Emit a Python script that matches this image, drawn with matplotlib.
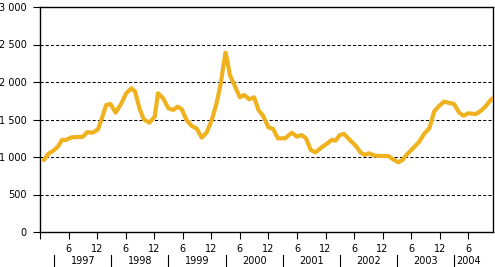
"""
Monthly index 1997-2004 — recreated line chart with split month/year axis.
"""

import matplotlib
matplotlib.use("Agg")
import matplotlib.pyplot as plt
from matplotlib.ticker import FuncFormatter

# months counted from Dec 1996 (= 0)
months = [0.84, 1.7, 2.7, 3.8, 4.6, 5.5, 6.6, 9.0, 9.9, 11.1, 12.2, 13.0,
          13.9, 14.8, 15.9, 17.1, 18.1, 19.2, 20.0, 20.9, 21.8, 23.0, 24.1,
          24.8, 25.8, 27.0, 28.0, 28.9, 29.8, 30.8, 31.9, 32.9, 34.0, 35.0,
          36.1, 37.1, 38.0, 38.5, 39.0, 39.4, 39.9, 41.0, 42.0, 42.9, 44.0,
          45.0, 45.9, 46.9, 48.0, 49.0, 50.0, 51.5, 52.9, 54.0, 55.0, 55.9,
          56.9, 57.9, 59.2, 60.4, 61.3, 62.1, 63.0, 63.9, 65.1, 66.4, 67.4,
          68.3, 69.1, 70.4, 72.0, 73.2, 74.2, 75.3, 76.2, 77.0, 78.4, 79.7,
          80.7, 81.8, 82.3, 82.8, 83.7, 84.9, 85.8, 87.0, 88.1, 89.0, 90.0,
          91.6, 92.6, 93.7, 94.7, 95.4]
values = [960, 1040, 1080, 1140, 1227, 1227, 1262, 1270, 1330, 1325, 1370, 1515,
          1693, 1707, 1591, 1716, 1849, 1916, 1871, 1649, 1502, 1458, 1538,
          1849, 1790, 1649, 1627, 1671, 1636, 1493, 1413, 1382, 1258, 1324,
          1493, 1716, 1982, 2204, 2390, 2271, 2093, 1938, 1796, 1827, 1769,
          1796, 1627, 1547, 1396, 1373, 1249, 1249, 1324, 1271, 1293, 1249,
          1093, 1062, 1129, 1182, 1227, 1218, 1293, 1307, 1227, 1147, 1058,
          1027, 1049, 1018, 1013, 1013, 969, 929, 960, 1027, 1116, 1204,
          1307, 1382, 1484, 1604, 1671, 1738, 1724, 1707, 1591, 1551, 1582,
          1573, 1613, 1680, 1760, 1796]

years = ["1997", "1998", "1999", "2000", "2001", "2002", "2003", "2004"]
month_ticks = list(range(0, 91, 6))
y_ticks = [0, 500, 1000, 1500, 2000, 2500, 3000]

LINE = "#EFB21E"
FS = 7


def main():
    fig = plt.figure(figsize=(4.95, 2.67), dpi=100)
    ax = fig.add_axes([40 / 495, 35 / 267, 453 / 495, 225 / 267])

    ax.plot(months, values, color=LINE, lw=3.0, solid_capstyle="round",
            solid_joinstyle="round", zorder=3)

    ax.set_xlim(0, 95.2)
    ax.set_ylim(0, 3000)

    ax.set_yticks(y_ticks)
    ax.yaxis.set_major_formatter(FuncFormatter(lambda v, p: f"{int(v):,}".replace(",", " ")))
    ax.set_xticks(month_ticks)
    ax.set_xticklabels(["" if m == 0 else ("6" if m % 12 == 6 else "12") for m in month_ticks])

    ax.tick_params(axis="both", direction="out", length=5, width=0.8,
                   labelsize=FS, colors="black")
    ax.tick_params(axis="y", pad=4.5)
    ax.tick_params(axis="x", pad=3.5)

    for v in y_ticks[1:-1]:
        ax.axhline(v, color="black", lw=0.75, ls=(0, (3, 2)), zorder=1)

    for s in ax.spines.values():
        s.set_linewidth(1.0)
        s.set_color("black")

    # year row: separators and labels under the month ticks
    tr = ax.get_xaxis_transform()
    for i, yr in enumerate(years):
        sep = 3 + 12 * i
        ax.plot([sep, sep], [-0.102, -0.156], color="black", lw=0.8,
                transform=tr, clip_on=False)
        if yr == "2004":
            ax.text(sep + 0.4, -0.129, yr, transform=tr, ha="left",
                    va="center", fontsize=FS)
        else:
            ax.text(sep + 6, -0.129, yr, transform=tr, ha="center",
                    va="center", fontsize=FS)

    fig.savefig("out.png", dpi=100)
    plt.close(fig)


if __name__ == "__main__":
    main()
